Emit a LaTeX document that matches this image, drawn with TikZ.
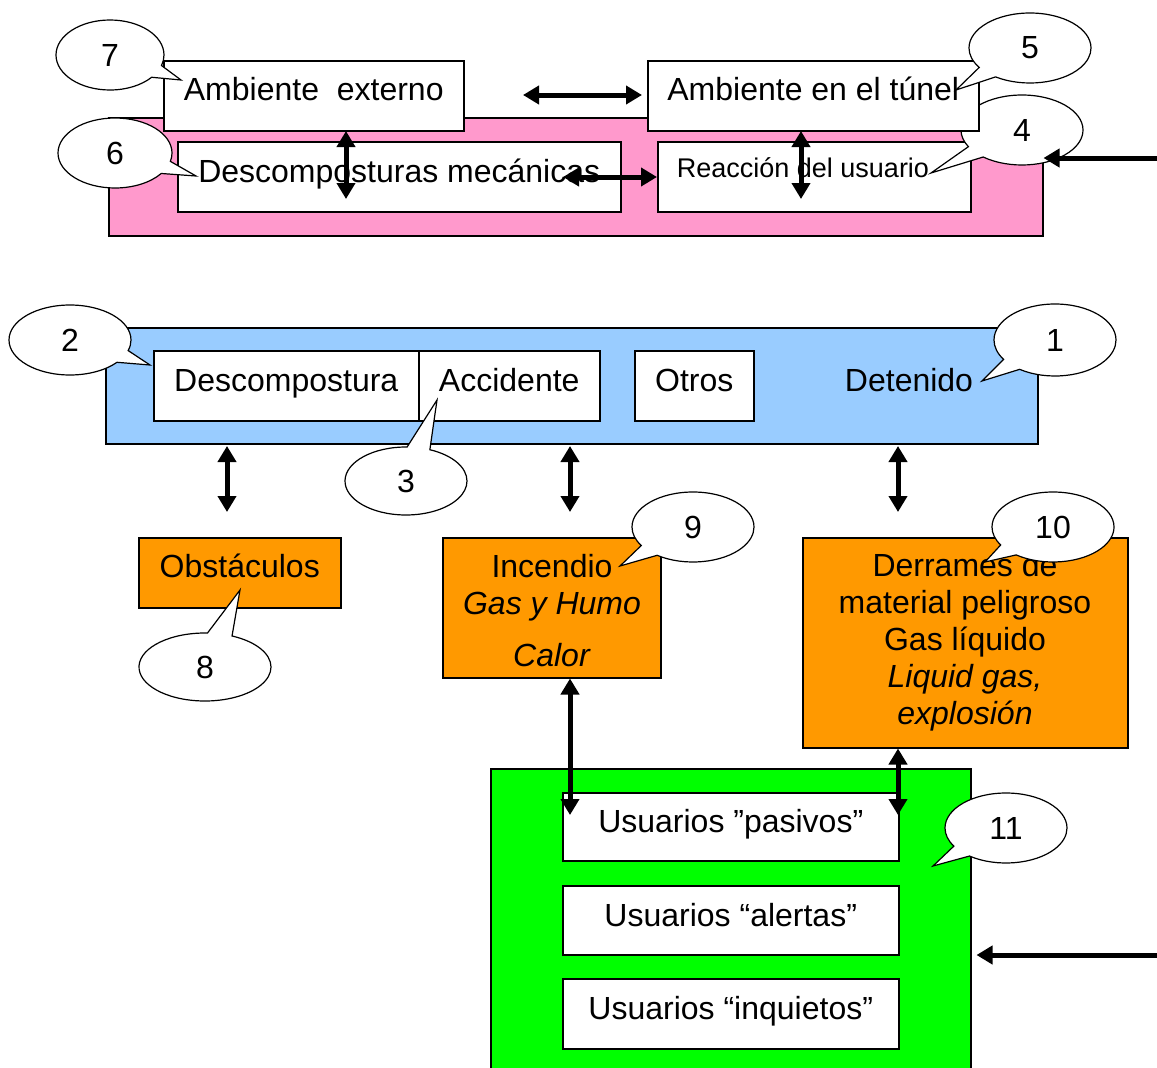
\documentclass[tikz,border=0pt]{standalone}
\usepackage{fontspec}
\setmainfont{Liberation Sans}
\usetikzlibrary{arrows.meta,shapes.callouts,shapes.geometric}
\definecolor{pinkf}{HTML}{FF99CC}
\definecolor{bluef}{HTML}{99CCFF}
\definecolor{orangef}{HTML}{FF9900}
\definecolor{greenf}{HTML}{00FF00}
\newcommand\fs{\fontsize{32}{37}\selectfont}
\newcommand\fss{\fontsize{27}{31}\selectfont}
\tikzset{
  box/.style={draw, line width=1.5pt, inner sep=0pt, anchor=north west, align=center, font=\fs, fill=white,
              text height=24pt, text depth=12pt},
  panel/.style={draw, line width=1.5pt, inner sep=0pt, anchor=north west},
  plain/.style={inner sep=0pt, align=center, font=\fs},
  cal/.style={ellipse callout, draw, fill=white, line width=1.2pt, inner sep=0pt,
              minimum width=122pt, minimum height=70pt, callout pointer arc=22, font=\fs},
  dbl/.style={line width=5pt, {Triangle[width=18pt,length=16pt]}-{Triangle[width=18pt,length=16pt]}},
  sgl/.style={line width=5pt, -{Triangle[width=18pt,length=16pt]}}
}
\begin{document}
\begin{tikzpicture}[x=1pt,y=-1pt]
\useasboundingbox (0,0) rectangle (1157,1068);
% ---------- top group ----------
\node[panel, fill=pinkf, minimum width=934pt, minimum height=118pt] (pink) at (108,117) {};
\node[box, minimum width=443pt, minimum height=70pt] (dm) at (177,141) {Descomposturas mecánicas};
\node[panel, fill=white, minimum width=313pt, minimum height=70pt] (ru) at (657,141) {};
\node[plain, font=\fss] (rut) at (803,168) {Reacción del usuario};
\node[cal, callout absolute pointer={(931,173)}] (c4) at (1022,130) {4};
\node[box, minimum width=331pt, minimum height=70pt, text depth=14pt] (at) at (647,60) {Ambiente en el túnel};
\node[cal, callout absolute pointer={(956,90)}] (c5) at (1030,48) {5};
\node[box, minimum width=300pt, minimum height=70pt, text depth=14pt] (ae) at (163,60) {Ambiente\ \ externo};
\node[cal, minimum width=108pt, callout absolute pointer={(181,80)}] (c7) at (110,55) {7};
\node[cal, minimum width=114pt, callout absolute pointer={(196,176)}] (c6) at (115,153) {6};
% top arrows
\coordinate (t1a) at (523,95); \coordinate (t1b) at (642,95);
\draw[dbl] (t1a) -- (t1b);
\coordinate (t2a) at (346,131); \coordinate (t2b) at (346,199);
\draw[dbl] (t2a) -- (t2b);
\coordinate (t3a) at (563,177); \coordinate (t3b) at (657,177);
\draw[dbl] (t3a) -- (t3b);
\coordinate (t4a) at (801,131); \coordinate (t4b) at (801,199);
\draw[dbl] (t4a) -- (t4b);
\coordinate (rin1) at (1160,158);
\draw[sgl] (rin1) -- (pink.east |- rin1);
% ---------- middle group ----------
\node[panel, fill=bluef, minimum width=932pt, minimum height=116pt] (blue) at (105,327) {};
\node[box, minimum width=265pt, minimum height=70pt] (desc) at (153,350) {Descompostura};
\node[box, minimum width=181pt, minimum height=70pt] (acc) at (418,350) {Accidente};
\node[box, minimum width=119pt, minimum height=70pt] (otr) at (634,350) {Otros};
\node[plain] (det) at (909,380) {Detenido};
\node[cal, callout absolute pointer={(150,365)}] (c2) at (70,340) {2};
\node[cal, minimum height=68pt, callout absolute pointer={(437,400)}] (c3) at (406,481) {3};
\node[cal, minimum height=72pt, callout absolute pointer={(982,381)}] (c1) at (1055,340) {1};
% ---------- hazards ----------
\node[box, fill=orangef, minimum width=202pt, minimum height=70pt, text depth=14pt] (obs) at (138,537) {Obstáculos};
\node[panel, fill=orangef, minimum width=218pt, minimum height=140pt] (inc) at (442,537) {};
\node[plain] (inct) at (552,611) {Incendio\\\textit{Gas y Humo}\\[15pt]\textit{Calor}};
\node[panel, fill=orangef, minimum width=325pt, minimum height=210pt] (der) at (802,537) {};
\node[plain] (dert) at (965,642) {Derrames de\\material peligroso\\Gas líquido\\\textit{Liquid gas,}\\\textit{explosión}};
\node[cal, minimum width=132pt, minimum height=68pt, callout absolute pointer={(240,590)}] (c8) at (205,667) {8};
\node[cal, callout absolute pointer={(620,566)}] (c9) at (693,527) {9};
\node[cal, callout absolute pointer={(985,562)}] (c10) at (1053,527) {10};
% middle arrows
\coordinate (m1a) at (227,446); \coordinate (m1b) at (227,512);
\draw[dbl] (m1a) -- (m1b);
\coordinate (m2a) at (570,446); \coordinate (m2b) at (570,512);
\draw[dbl] (m2a) -- (m2b);
\coordinate (m3a) at (898,446); \coordinate (m3b) at (898,512);
\draw[dbl] (m3a) -- (m3b);
% ---------- users ----------
\node[panel, fill=greenf, minimum width=480pt, minimum height=320pt] (green) at (490,768) {};
\node[box, minimum width=336pt, minimum height=68pt] (pas) at (562,792) {Usuarios ”pasivos”};
\node[box, minimum width=336pt, minimum height=69pt] (ale) at (562,885) {Usuarios “alertas”};
\node[box, minimum width=336pt, minimum height=70pt] (inq) at (562,978) {Usuarios “inquietos”};
\node[cal, callout absolute pointer={(933,866)}] (c11) at (1006,828) {11};
\coordinate (b1b) at (570,815);
\draw[dbl] (inc.south -| b1b) -- (b1b);
\coordinate (b2b) at (898,815);
\draw[dbl] (der.south -| b2b) -- (b2b);
\coordinate (rin2) at (1160,955);
\draw[sgl] (rin2) -- ([xshift=5pt]green.east |- rin2);
\end{tikzpicture}
\end{document}
